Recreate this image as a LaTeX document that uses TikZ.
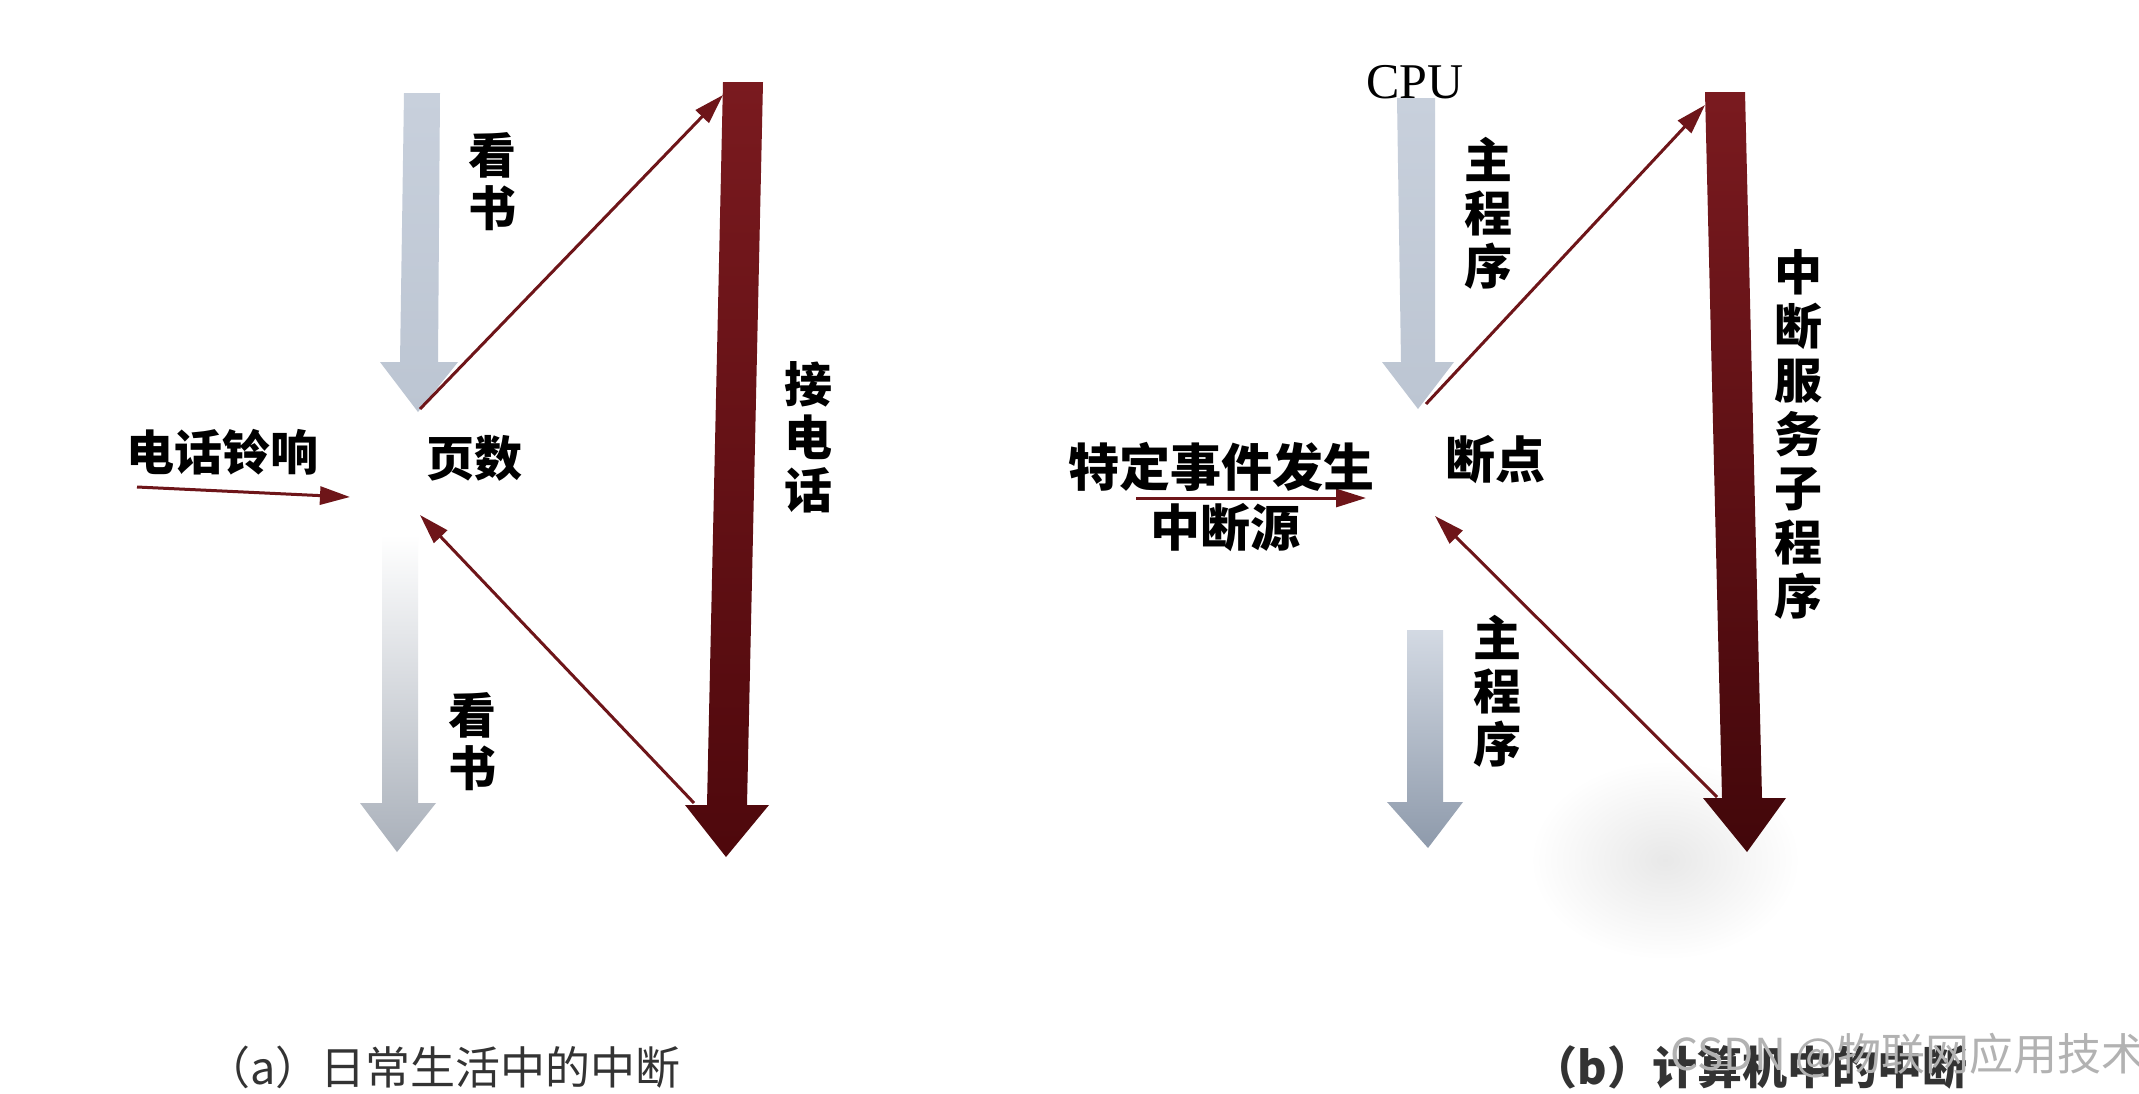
\documentclass[tikz,border=0pt]{standalone}
\usepackage{fontspec}
\newfontfamily\cjk{Noto Sans CJK SC}
\newfontfamily\serifL{Liberation Serif}
\usetikzlibrary{arrows.meta}
\definecolor{dred}{HTML}{7A1A1F}
\definecolor{dredB}{HTML}{4E080C}
\definecolor{thinred}{HTML}{6E1519}
\definecolor{lblue}{HTML}{C8D0DC}
\definecolor{lblueB}{HTML}{BCC5D2}
\definecolor{gblueB}{HTML}{8E9AAB}
\tikzset{
  lbl/.style={font=\cjk\bfseries\fontsize{48}{53}\selectfont, align=center, inner sep=0pt, text=black},
  capt/.style={font=\cjk\fontsize{45}{50}\selectfont, inner sep=0pt, text=black!80},
  thinarr/.style={draw=thinred, line width=3pt, -{Triangle[length=30pt,width=18pt]}},
}
\begin{document}
\begin{tikzpicture}[x=1pt,y=-1pt]
\useasboundingbox (0,0) rectangle (2139,1093);
\fill[white] (0,0) rectangle (2139,1093);

% scan smudge
\shade[inner color=black!9, outer color=white] (1665,860) ellipse [x radius=135, y radius=100];

% ---------- (a) ----------
\shade[top color=lblue, bottom color=lblueB]
  (404,93) -- (440,93) -- (438,362) -- (458,362) -- (418,412) -- (380,362) -- (400,362) -- cycle;
\shade[top color=white, bottom color=lblueB!85!black!90]
  (382,535) -- (418,535) -- (418,803) -- (436,803) -- (397,852) -- (360,803) -- (382,803) -- cycle;
\shade[top color=dred, bottom color=dredB]
  (723,82) -- (763,82) -- (747,805) -- (769,805) -- (726,857) -- (685,805) -- (707,805) -- cycle;

\coordinate (aTop) at (723,95);
\coordinate (aBrk) at (420,409);
\coordinate (aBot) at (694,803);
\coordinate (aRet) at (420,515);
\coordinate (aSrc) at (137,487);
\coordinate (aIn)  at (350,497);
\draw[thinarr] (aBrk) -- (aTop);
\draw[thinarr] (aBot) -- (aRet);
\draw[thinarr] (aSrc) -- (aIn);

\node[lbl] (kan1) at (492,182) {看\\书};
\node[lbl] (kan2) at (472,742) {看\\书};
\node[lbl] (ring) at (222,452) {电话铃响};
\node[lbl] (page) at (474,458) {页数};
\node[lbl] (ans)  at (808,437) {接\\电\\话};
\node[capt, anchor=south] (capa) at (443,1089) {（a）日常生活中的中断};

% ---------- (b) ----------
\shade[top color=lblue, bottom color=lblueB]
  (1397,98) -- (1435,98) -- (1435,362) -- (1454,362) -- (1418,409) -- (1382,362) -- (1401,362) -- cycle;
\shade[top color=lblue!80, bottom color=gblueB]
  (1407,630) -- (1443,630) -- (1443,802) -- (1463,802) -- (1428,848) -- (1387,802) -- (1407,802) -- cycle;
\shade[top color=dred, bottom color=dredB!85!black]
  (1705,92) -- (1745,92) -- (1762,798) -- (1786,798) -- (1747,852) -- (1703,798) -- (1722,798) -- cycle;

\coordinate (bTop) at (1705,105);
\coordinate (bBrk) at (1426,404);
\coordinate (bBot) at (1717,797);
\coordinate (bRet) at (1435,516);
\coordinate (bSrc) at (1136,498);
\coordinate (bIn)  at (1366,498);
\draw[thinarr] (bBrk) -- (bTop);
\draw[thinarr] (bBot) -- (bRet);
\draw[thinarr] (bSrc) -- (bIn);

\node[font=\serifL\fontsize{50}{55}\selectfont, inner sep=0pt, anchor=base] (cpu) at (1415,98) {CPU};
\node[lbl] (main1) at (1488,213) {主\\程\\序};
\node[lbl] (main2) at (1497,691) {主\\程\\序};
\node[lbl, font=\cjk\bfseries\fontsize{48}{54}\selectfont] (isr) at (1798,434) {中\\断\\服\\务\\子\\程\\序};
\node[lbl, font=\cjk\bfseries\fontsize{51}{55}\selectfont] (evt) at (1221,467) {特定事件发生};
\node[lbl, font=\cjk\bfseries\fontsize{50}{55}\selectfont] (src) at (1225,528) {中断源};
\node[lbl, font=\cjk\bfseries\fontsize{50}{55}\selectfont] (bp) at (1495,460) {断点};
\node[capt, anchor=south, font=\cjk\bfseries\fontsize{45}{50}\selectfont] (capb) at (1750,1089) {（b）计算机中的中断};
\node[capt, text=black!30, font=\cjk\fontsize{44}{50}\selectfont] (wm) at (1908,1056) {CSDN @物联网应用技术};
\end{tikzpicture}
\end{document}
